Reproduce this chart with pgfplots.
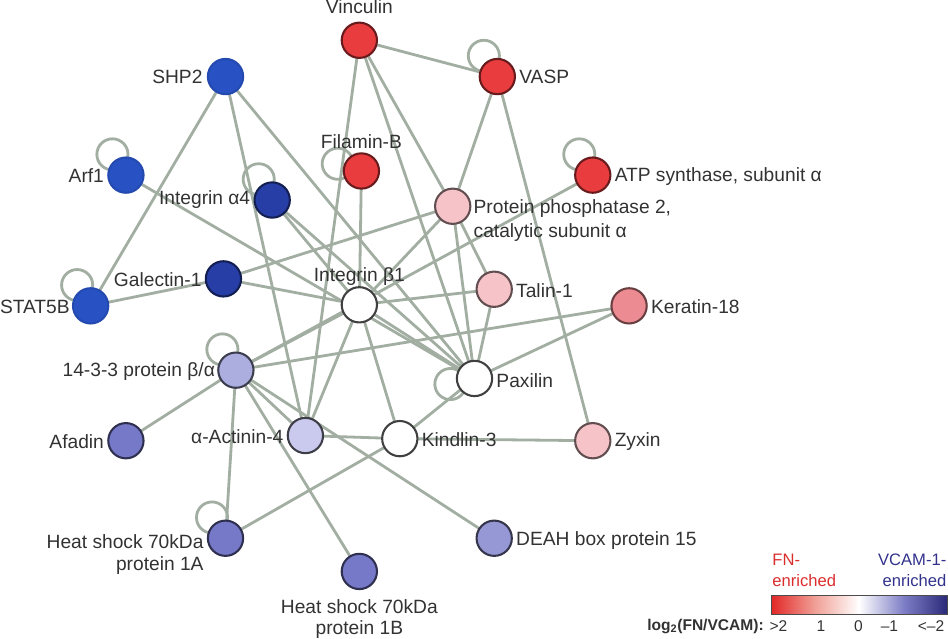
\documentclass[border=0pt]{standalone}
\usepackage{fontspec}
\setmainfont{Liberation Sans}
\usepackage{pgfplots}
\pgfplotsset{compat=1.18}
\usepackage{pgfplotstable}

\definecolor{edge}{RGB}{162,174,162}
\definecolor{txt}{RGB}{50,50,50}
\definecolor{nred}{RGB}{232,60,62}
\definecolor{nker}{RGB}{236,140,146}
\definecolor{npink}{RGB}{246,196,200}
\definecolor{nblue}{RGB}{40,82,196}
\definecolor{nnavy}{RGB}{38,62,166}
\definecolor{nlava}{RGB}{202,202,238}
\definecolor{nlavb}{RGB}{172,174,224}
\definecolor{nlavc}{RGB}{150,152,214}
\definecolor{nmed}{RGB}{118,120,200}
\definecolor{fnred}{RGB}{220,45,45}
\definecolor{vcblue}{RGB}{50,50,140}

% self-loop drawn as a small circle up-left of the node
\pgfdeclareplotmark{selfloop}{%
  \pgfpathcircle{\pgfpoint{-13pt}{20pt}}{15pt}%
  \pgfusepathqstroke}

% node positions, class = colour group
\pgfplotstableread{
x y c
372 50 red
505 85 red
374 176 red
597 180 red
632 306 ker
462 210 pink
502 290 pink
597 436 pink
372 305 white
483 376 white
411 434 white
243 85 blue
147 180 blue
113 306 blue
288 204 navy
241 280 navy
253 368 lavb
320 431 lava
502 530 lavc
147 436 med
243 530 med
372 562 med
}\nodesT

% interactions
\pgfplotstableread{
x1 y1 x2 y2
372 50 505 85
372 50 320 431
372 50 483 376
372 50 462 210
505 85 462 210
505 85 597 436
374 176 372 305
243 85 113 306
243 85 320 431
243 85 483 376
147 180 483 376
288 204 372 305
288 204 483 376
241 280 113 306
241 280 462 210
241 280 372 305
462 210 372 305
462 210 483 376
462 210 502 290
597 180 253 368
502 290 372 305
502 290 483 376
632 306 483 376
632 306 253 368
372 305 253 368
372 305 320 431
372 305 411 434
372 305 483 376
253 368 147 436
253 368 320 431
253 368 243 530
253 368 372 562
253 368 502 530
320 431 411 434
411 434 597 436
411 434 483 376
243 530 411 434
}\edgesT

\pgfplotstableread{
x y
147 180
288 204
113 306
505 85
597 180
253 368
243 530
}\loopsT

\pgfplotstableread[col sep=semicolon]{
x;y;t
221;85;SHP2
126;180;Arf1
267;204;Integrin α4
220;281;Galectin-1
93;307;STAT5B
233;369;14-3-3 protein β/α
126;437;Afadin
299;432;α-Actinin-4
222;533;Heat shock 70kDa
222;556;protein 1A
}\labE

\pgfplotstableread[col sep=semicolon]{
x;y;t
526;85;VASP
618;181;ATP synthase, subunit α
482;212;Protein phosphatase 2,
482;235;catalytic subunit α
523;291;Talin-1
653;307;Keratin-18
504;378;Paxilin
432;435;Kindlin-3
618;437;Zyxin
523;532;DEAH box protein 15
}\labW

\pgfplotstableread[col sep=semicolon]{
x;y;t
372;18;Vinculin
374;148;Filamin-B
372;278;Integrin β1
372;596;Heat shock 70kDa
372;618;protein 1B
}\labC

\pgfplotstableread{
x y c
769 585 2
811 585 1
811 603 1
769 585 2
811 603 1
769 603 2
811 585 1
854 585 0
854 603 0
811 585 1
854 603 0
811 603 1
854 585 0
897 585 -1
897 603 -1
854 585 0
897 603 -1
854 603 0
897 585 -1
939 585 -2
939 603 -2
897 585 -1
939 603 -2
897 603 -1
}\barT

\begin{document}
\begin{tikzpicture}
\begin{axis}[
  width=948pt, height=627pt, scale only axis,
  xmin=0, xmax=948, ymin=0, ymax=627, y dir=reverse,
  hide axis, clip=false,
  colormap={fnv}{rgb255(0cm)=(40,40,120); rgb255(1cm)=(125,125,198); rgb255(2cm)=(255,255,255); rgb255(3cm)=(240,160,150); rgb255(4cm)=(226,38,38)},
  lbl/.style={only marks, mark=none, nodes near coords, point meta=explicit symbolic,
    every node near coord/.append style={font=\fontsize{18.5}{20}\selectfont, text=txt, inner sep=0pt}},
]
% edges
\addplot[-, draw=edge, line width=2.7pt,
  quiver={u=\thisrow{x2}-\thisrow{x1}, v=\thisrow{y2}-\thisrow{y1}}]
  table[x=x1, y=y1] {\edgesT};
% self-loops
\addplot[only marks, mark=selfloop, mark options={draw=edge, line width=2.7pt}] table {\loopsT};
\addplot[only marks, mark=selfloop, mark options={draw=edge, line width=2.7pt, rotate=40}] coordinates {(374,176)};
\addplot[only marks, mark=selfloop, mark options={draw=edge, line width=2.7pt, rotate=70}] coordinates {(483,376)};
% proteins
\addplot[scatter, only marks, mark=*, mark size=17pt, point meta=explicit symbolic,
  mark options={line width=2pt},
  scatter/classes={
    red={fill=nred, draw=nred!45!black},
    ker={fill=nker, draw=nker!45!black},
    pink={fill=npink, draw=npink!40!black},
    white={fill=white, draw=black!75},
    blue={fill=nblue, draw=nblue!90!black},
    navy={fill=nnavy, draw=nnavy!50!black},
    lava={fill=nlava, draw=nlava!30!black},
    lavb={fill=nlavb, draw=nlavb!35!black},
    lavc={fill=nlavc, draw=nlavc!35!black},
    med={fill=nmed, draw=nmed!40!black}}]
  table[meta=c] {\nodesT};
% labels
\addplot[lbl, every node near coord/.append style={anchor=east}] table[meta=t] {\labE};
\addplot[lbl, every node near coord/.append style={anchor=west}] table[meta=t] {\labW};
\addplot[lbl, every node near coord/.append style={anchor=center}] table[meta=t] {\labC};
% colour key
\addplot[patch, shader=interp, point meta=explicit, point meta min=-2, point meta max=2]
  table[meta=c] {\barT};
\addplot[draw=black!70, line width=0.8pt] coordinates {(769,585) (939,585) (939,603) (769,603) (769,585)};
\addplot[only marks, mark=none, nodes near coords, point meta=explicit symbolic,
  every node near coord/.append style={anchor=west, inner sep=0pt, text=fnred, font=\fontsize{16}{18}\selectfont}]
  table[meta=t, col sep=semicolon] {
x;y;t
770;551;FN-
770;571;enriched
};
\addplot[only marks, mark=none, nodes near coords, point meta=explicit symbolic,
  every node near coord/.append style={anchor=east, inner sep=0pt, text=vcblue, font=\fontsize{16}{18}\selectfont}]
  table[meta=t, col sep=semicolon] {
x;y;t
938;551;VCAM-1-
938;571;enriched
};
\addplot[only marks, mark=none, nodes near coords, point meta=explicit symbolic,
  every node near coord/.append style={anchor=east, inner sep=0pt, text=txt, font=\fontsize{15}{17}\bfseries}]
  table[meta=t, col sep=semicolon] {
x;y;t
762;615;log\textsubscript{2}(FN/VCAM):
};
\addplot[only marks, mark=none, nodes near coords, point meta=explicit symbolic,
  every node near coord/.append style={anchor=center, inner sep=0pt, text=txt, font=\fontsize{15}{17}\selectfont}]
  table[meta=t, col sep=semicolon] {
x;y;t
776;615;>2
817;615;1
853;615;0
883;615;–1
923;615;<–2
};
\end{axis}
\end{tikzpicture}
\end{document}
